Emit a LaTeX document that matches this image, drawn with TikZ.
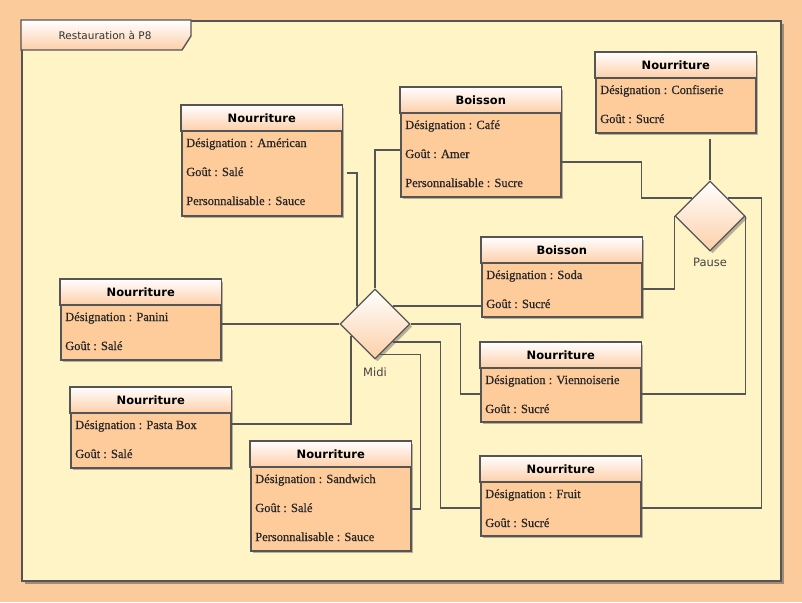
\documentclass[tikz,border=0pt]{standalone}
\usepackage{fontspec}
\setmainfont{Liberation Serif}
\newfontfamily\attrfont{Liberation Serif}[FakeBold=0.6]
\newfontfamily\hdrfont{DejaVu Sans}
\usetikzlibrary{calc,shapes.geometric,shadows}

\definecolor{pagebg}{HTML}{FCCB9B}
\definecolor{framebg}{HTML}{FFF4C5}
\definecolor{bodyfill}{HTML}{FECB9B}
\definecolor{hdrbot}{HTML}{FCCFA8}
\definecolor{edge}{HTML}{555555}
\definecolor{lbl}{HTML}{444444}

\tikzset{
 myshadow/.style={drop shadow={shadow xshift=2.5pt, shadow yshift=-2.5pt, opacity=0.4, fill=black!70}},
 boxbody/.style={draw=edge, line width=1.5pt, fill=bodyfill, minimum width=160pt, inner sep=0pt, anchor=north west, myshadow},
 hdr/.style={top color=white, bottom color=hdrbot, draw=edge, line width=1.5pt},
 ttl/.style={font=\hdrfont\bfseries\fontsize{11.5}{12}\selectfont, anchor=base, inner sep=0pt},
 attr/.style={font=\attrfont\fontsize{12.5}{13}\selectfont, anchor=base west, inner sep=0pt, text=black!85},
 conn/.style={draw=edge, line width=1.4pt},
 decision/.style={diamond, minimum width=70pt, minimum height=70pt, inner sep=0pt, shape aspect=1, draw=edge, line width=1.3pt, top color=white, bottom color=hdrbot, myshadow},
 dlabel/.style={font=\hdrfont\fontsize{11.5}{12}\selectfont, text=lbl, inner sep=0pt},
 framebox/.style={draw=edge, line width=1.7pt, fill=framebg, inner sep=0pt, anchor=north west, drop shadow={shadow xshift=3pt, shadow yshift=-3.5pt, opacity=0.5, fill=black!70}},
}

\newcommand\umlclass[6]{%
 \node[boxbody, minimum height=#4pt] (#1) at (#2,#3) {};
 \path[hdr] (#1.north west) rectangle ($(#1.north east)+(0,26)$);
 \node[ttl] at ($(#1.north)+(0,17)$) {#5};
 \foreach \t [count=\i] in {#6} {\node[attr] at ($(#1.north west)+(5,{42+29*(\i-1)})$) {\t};}
}

\begin{document}
\begin{tikzpicture}[x=1pt,y=-1pt]
\useasboundingbox (0,0) rectangle (802,602);
\fill[pagebg] (0,0) rectangle (802,602);

% frame
\node[framebox, minimum width=759pt, minimum height=560pt] (frame) at (21,20) {};
\draw[edge, line width=1.4pt, top color=white, bottom color=hdrbot]
  (frame.north west) -- ++(170,0) -- ++(0,16) -- ++(-9,14) -- ++(-161,0) -- cycle;
\node[font=\hdrfont\fontsize{10.5}{11}\selectfont, text=black!80, inner sep=0pt] (ftitle) at (105,35) {Restauration à P8};

% classes
\umlclass{amer}{181}{105}{110}{Nourriture}{Désignation : Américan, Goût : Salé, Personnalisable : Sauce}
\umlclass{cafe}{400}{87}{109}{Boisson}{Désignation : Café, Goût : Amer, Personnalisable : Sucre}
\umlclass{conf}{595}{52}{80}{Nourriture}{Désignation : Confiserie, Goût : Sucré}
\umlclass{soda}{481}{237}{79}{Boisson}{Désignation : Soda, Goût : Sucré}
\umlclass{panini}{60}{279}{80}{Nourriture}{Désignation : Panini, Goût : Salé}
\umlclass{pasta}{70}{387}{80}{Nourriture}{Désignation : Pasta Box, Goût : Salé}
\umlclass{sandw}{250}{441}{109}{Nourriture}{Désignation : Sandwich, Goût : Salé, Personnalisable : Sauce}
\umlclass{vien}{480}{342}{79}{Nourriture}{Désignation : Viennoiserie, Goût : Sucré}
\umlclass{fruit}{480}{456}{79}{Nourriture}{Désignation : Fruit, Goût : Sucré}

% decisions
\node[decision] (midi) at (375,324) {};
\node[dlabel] (midilbl) at (375,372) {Midi};
\node[decision] (pause) at (710,216) {};
\node[dlabel] (pauselbl) at (710,262) {Pause};

% connectors to Midi
\draw[conn, shorten <=4pt] ($(amer.north east)+(0,68)$) -| (midi.north west);
\draw[conn] ($(cafe.north west)+(0,63)$) -| (midi.north);
\draw[conn] (panini.east |- midi.west) -- (midi.west);
\draw[conn] ($(pasta.north east)+(0,37)$) -| ($(midi.west)!0.33!(midi.south)$);
\draw[conn] (midi.north east) -- (soda.west |- midi.north east);
\draw[conn] (midi.east) -- ++(50,0) |- ($(vien.north west)+(0,52)$);
\draw[conn] (midi.south east) -- ++(47.5,0) |- ($(fruit.north west)+(0,52)$);
\draw[conn] ($(midi.south)!0.15!(midi.east)$) -- ++(40,0) |- ($(sandw.north east)+(0,68)$);

% connectors to Pause
\draw[conn, shorten <=5pt] (pause.north |- conf.south) -- (pause.north);
\draw[conn] ($(cafe.north east)+(0,75)$) -- ++(80,0) |- (pause.north west);
\draw[conn] ($(soda.north east)+(0,52)$) -| (pause.west);
\draw[conn] ($(vien.north east)+(0,52)$) -| (pause.east);
\draw[conn] ($(fruit.north east)+(0,52)$) -- ++(120,0) |- (pause.north east);
\end{tikzpicture}
\end{document}
